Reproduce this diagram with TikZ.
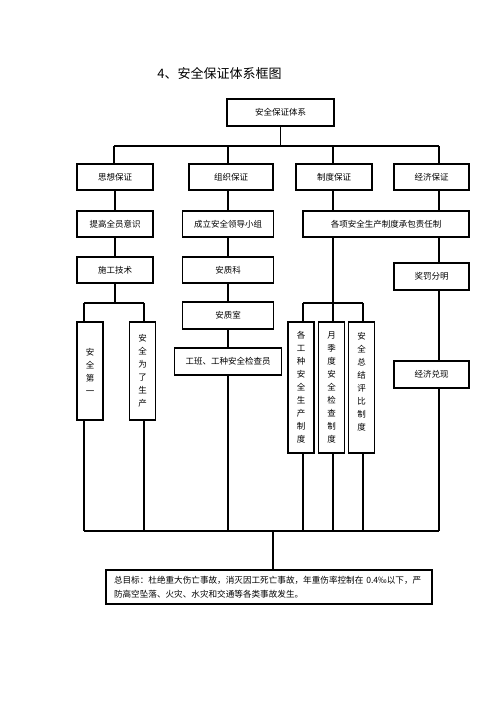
\documentclass[tikz,border=0pt]{standalone}
\usepackage{fontspec}
\setmainfont{Noto Sans CJK SC}

\begin{document}
\begin{tikzpicture}[x=1pt, y=-1pt,
    box/.style={draw, line width=1.4pt, inner sep=0pt, font=\fontsize{8.5}{13}\selectfont},
    vbox/.style={box, align=center, minimum width=26pt},
    link/.style={line width=1.2pt}]
  \useasboundingbox[fill=white] (0,0) rectangle (500,706);

  \path
  (219.5,73) node[font=\fontsize{13}{15}\selectfont](title){4、安全保证体系框图}
  (280.5,112.5) node[box, minimum width=107pt, minimum height=27pt](sys){安全保证体系};

  % first row
  \path
  (115,177) node[box, minimum width=76pt, minimum height=26pt](sxbz){思想保证}
  (231,177) node[box, minimum width=84pt, minimum height=26pt](zzbz){组织保证}
  (334,177) node[box, minimum width=76pt, minimum height=26pt](zdbz){制度保证}
  (431.5,177) node[box, minimum width=75pt, minimum height=26pt](jjbz){经济保证};

  % second and third row
  \path
  (115,224) node[box, minimum width=76pt, minimum height=26pt](tgyy){提高全员意识}
  (228,224) node[box, minimum width=91pt, minimum height=26pt](clxz){成立安全领导小组}
  (386,224) node[box, minimum width=166pt, minimum height=26pt](gxzd){各项安全生产制度承包责任制}
  (115,270) node[box, minimum width=76pt, minimum height=26pt](sgjs){施工技术}
  (228,270) node[box, minimum width=91pt, minimum height=26pt](azk){安质科}
  (431.5,276.5) node[box, minimum width=75pt, minimum height=27pt](jfmm){奖罚分明};

  % lower boxes
  \path
  (90,371) node[vbox, minimum height=98pt](aqdy){安\\全\\第\\一}
  (142.5,371) node[vbox, minimum height=98pt](aqwl){安\\全\\为\\了\\生\\产}
  (228,315.5) node[box, minimum width=91pt, minimum height=27pt](azs){安质室}
  (228,361.5) node[box, minimum width=107pt, minimum height=27pt](gbjc){工班、工种安全检查员}
  (301,387.5) node[vbox, minimum height=131pt](zdone){各\\工\\种\\安\\全\\生\\产\\制\\度}
  (331.5,387.5) node[vbox, minimum height=131pt](zdtwo){月\\季\\度\\安\\全\\检\\查\\制\\度}
  (361.5,387.5) node[vbox, minimum height=131pt](zdthree){安\\全\\总\\结\\评\\比\\制\\度\\\mbox{}}
  (431.5,374.5) node[box, minimum width=75pt, minimum height=27pt](jjdx){经济兑现};

  \path
  (269,587) node[box, text width=310pt, inner xsep=8pt, minimum height=34pt, align=left,
    font=\fontsize{8.6}{13.5}\selectfont](goal){总目标：杜绝重大伤亡事故，消灭因工死亡事故，年重伤率控制在 0.4‰以下，严\\防高空坠落、火灾、水灾和交通等各类事故发生。};

  % junctions
  \coordinate (hub) at (280.5,146);
  \coordinate (hubL) at (114,146);
  \coordinate (hubB) at (228,146);
  \coordinate (hubC) at (333,146);
  \coordinate (hubR) at (439,146);
  \coordinate (forkA) at (115,303);
  \coordinate (forkAL) at (84,303);
  \coordinate (forkAR) at (144,303);
  \coordinate (forkCL) at (303,303);
  \coordinate (forkCR) at (363,303);
  \coordinate (busL) at (84,531);
  \coordinate (busR) at (439,531);
  \coordinate (busM) at (273,531);

  \draw[link] (sys) -- (hub);
  \draw[link] (hubL) -- (hubR);
  \draw[link] (hubL) -- (hubL |- sxbz.north);
  \draw[link] (hubB) -- (hubB |- zzbz.north);
  \draw[link] (hubC) -- (hubC |- zdbz.north);
  \draw[link] (hubR) -- (hubR |- jjbz.north);

  % left column
  \draw[link] (sxbz) -- (tgyy);
  \draw[link] (tgyy) -- (sgjs);
  \draw[link] (sgjs) -- (forkA);
  \draw[link] (forkAL) -- (forkAR);
  \draw[link] (forkAL) -- (forkAL |- aqdy.north);
  \draw[link] (forkAR) -- (forkAR |- aqwl.north);
  \draw[link] (forkAL |- aqdy.south) -- (busL);
  \draw[link] (forkAR |- aqwl.south) -- (forkAR |- busL);

  % second column
  \draw[link] (hubB |- zzbz.south) -- (clxz);
  \draw[link] (clxz) -- (azk);
  \draw[link] (azk) -- (azs);
  \draw[link] (azs) -- (gbjc);
  \draw[link] (gbjc) -- (gbjc |- busL);

  % third column
  \draw[link] (hubC |- zdbz.south) -- (hubC |- gxzd.north);
  \draw[link] (hubC |- gxzd.south) -- (hubC |- zdtwo.north);
  \draw[link] (forkCL) -- (forkCR);
  \draw[link] (forkCL) -- (forkCL |- zdone.north);
  \draw[link] (forkCR) -- (forkCR |- zdthree.north);
  \draw[link] (forkCL |- zdone.south) -- (forkCL |- busL);
  \draw[link] (hubC |- zdtwo.south) -- (hubC |- busL);
  \draw[link] (forkCR |- zdthree.south) -- (forkCR |- busL);

  % right column
  \draw[link] (hubR |- jjbz.south) -- (hubR |- gxzd.north);
  \draw[link] (hubR |- gxzd.south) -- (hubR |- jfmm.north);
  \draw[link] (hubR |- jfmm.south) -- (hubR |- jjdx.north);
  \draw[link] (hubR |- jjdx.south) -- (busR);

  \draw[link] (busL) -- (busR);
  \draw[link] (busM) -- (busM |- goal.north);
\end{tikzpicture}
\end{document}
